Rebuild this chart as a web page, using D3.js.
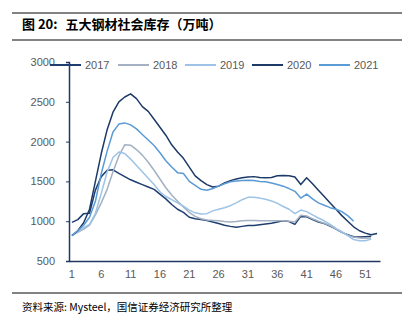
<!DOCTYPE html>
<html>
<head>
<meta charset="utf-8">
<script src="https://cdn.jsdelivr.net/npm/d3@7"></script>
<style>
  body { margin: 0; background: #fff; }
  svg { display: block; }
</style>
</head>
<body>
<script>
    let weeks = d3.range(1, 54);
    let tickWeeks = [1, 6, 11, 16, 21, 26, 31, 36, 41, 46, 51];
    let yTicks = [500, 1000, 1500, 2000, 2500, 3000];
    let seriesNames = ["2017", "2018", "2019", "2020", "2021"];
    let colors = ["#1f3e70", "#a3b1c2", "#9dc3e6", "#1c3a68", "#5b9bd5"];

    let v2017 = [985, 1020, 1095, 1100, 1390, 1560, 1640, 1645, 1600, 1560, 1520, 1490, 1460, 1430, 1400, 1340,
      1280, 1210, 1150, 1110, 1050, 1030, 1020, 1010, 990, 970, 950, 935, 925, 935, 945, 945, 955, 965, 975, 990,
      1005, 995, 960, 1060, 1055, 1020, 990, 970, 940, 900, 860, 830, 805, 800, 805, 810];
    let v2018 = [820, 860, 900, 950, 1080, 1230, 1400, 1620, 1820, 1960, 1955, 1900, 1830, 1740, 1640, 1530,
      1420, 1330, 1250, 1180, 1110, 1060, 1030, 1015, 1010, 1005, 995, 990, 995, 1005, 1010, 1010, 1005, 1005,
      1005, 1005, 1005, 1000, 990, 1075, 1065, 1030, 1000, 975, 945, 900, 860, 825, 800, 790, 785, 790];
    let v2019 = [820, 870, 920, 960, 1100, 1350, 1620, 1800, 1870, 1850, 1780, 1700, 1620, 1540, 1460, 1370,
      1310, 1270, 1230, 1190, 1140, 1105, 1090, 1095, 1130, 1150, 1170, 1195, 1230, 1270, 1300, 1300, 1290, 1275,
      1255, 1225, 1185, 1150, 1095, 1140, 1120, 1080, 1040, 1005, 960, 910, 870, 820, 770, 755, 755, 775];
    let v2020 = [820, 880, 980, 1150, 1500, 1850, 2150, 2370, 2500, 2560, 2600, 2540, 2440, 2380, 2280, 2180,
      2080, 1960, 1870, 1790, 1680, 1570, 1510, 1460, 1430, 1440, 1480, 1510, 1530, 1545, 1555, 1560, 1550, 1545,
      1550, 1570, 1575, 1570, 1555, 1460, 1545, 1470, 1390, 1310, 1230, 1150, 1070, 1000, 930, 880, 850, 830, 845];
    let v2021 = [820, 880, 950, 1050, 1250, 1600, 1880, 2120, 2220, 2235, 2210, 2160, 2090, 2020, 1950, 1860,
      1760, 1680, 1610, 1600, 1500, 1450, 1400, 1390, 1410, 1440, 1470, 1495, 1505, 1510, 1515, 1510, 1500, 1495,
      1480, 1460, 1440, 1410, 1375, 1290, 1340, 1280, 1230, 1200, 1170, 1150, 1120, 1070, 1000];

    let allValues = [v2017, v2018, v2019, v2020, v2021];

    let width = 407, height = 331;
    let plot = {"left": 69, "right": 380, "top": 62, "bottom": 261};

    const svg = d3.select("body")
      .append("svg")
      .attr("width", width)
      .attr("height", height);

    // header / footer rules
    [13, 40, 293].forEach((y) => {
      svg.append("line")
        .attr("x1", 12).attr("x2", 402)
        .attr("y1", y).attr("y2", y)
        .attr("stroke", "#595959")
        .attr("stroke-width", 1.5);
    });

    let title = svg.append("text")
      .attr("x", 22)
      .attr("y", 29)
      .style("font-family", "'Noto Sans CJK SC', sans-serif")
      .style("font-size", "13px")
      .style("font-weight", "bold")
      .attr("fill", "#000");
    title.append("tspan").text("图 20:");
    title.append("tspan").attr("dx", 8).text("五大钢材社会库存（万吨）");

    svg.append("text")
      .attr("x", 22)
      .attr("y", 311)
      .style("font-family", "'Noto Sans CJK SC', sans-serif")
      .style("font-size", "10.5px")
      .attr("fill", "#000")
      .text("资料来源: Mysteel，国信证券经济研究所整理");

    let xscale = d3.scaleBand()
      .domain(weeks)
      .range([plot.left, plot.right]);

    let yscale = d3.scaleLinear()
      .domain([500, 3000])
      .range([plot.bottom, plot.top]);

    let line = d3.line()
      .x((d, i) => xscale(weeks[i]) + xscale.bandwidth() / 2)
      .y((d) => yscale(d));

    svg.selectAll("path.series")
      .data(allValues)
      .enter()
      .append("path")
      .attr("class", "series")
      .attr("d", (d) => line(d))
      .attr("fill", "none")
      .attr("stroke", (d, i) => colors[i])
      .attr("stroke-width", 1.5)
      .attr("stroke-linejoin", "round");

    let x_axis = d3.axisBottom()
      .scale(xscale)
      .tickValues(tickWeeks)
      .tickSize(0)
      .tickPadding(9);

    let gx = svg.append("g")
      .attr("transform", "translate(0," + plot.bottom + ")")
      .call(x_axis);

    let y_axis = d3.axisLeft()
      .scale(yscale)
      .tickValues(yTicks)
      .tickFormat(d3.format("d"))
      .tickSize(3)
      .tickPadding(11);

    let gy = svg.append("g")
      .attr("transform", "translate(" + plot.left + ",0)")
      .call(y_axis);

    [gx, gy].forEach((g) => {
      g.select(".domain").attr("stroke", "#1f3864").attr("stroke-width", 1.5);
      g.selectAll(".tick line").attr("stroke", "#1f3864");
      g.selectAll(".tick text")
        .attr("fill", "#595959")
        .style("font-family", "'Liberation Sans', Arial, sans-serif")
        .style("font-size", "11px");
    });

    // legend
    let legendX = [50, 118, 185, 252, 319];
    let legend = svg.append("g")
      .selectAll("g")
      .data(seriesNames)
      .enter()
      .append("g")
      .attr("transform", (d, i) => "translate(" + legendX[i] + ",65)");

    legend.append("line")
      .attr("x1", 0).attr("x2", 31)
      .attr("y1", 0).attr("y2", 0)
      .attr("stroke", (d, i) => colors[i])
      .attr("stroke-width", 2);

    legend.append("text")
      .attr("x", 35)
      .attr("y", 4)
      .attr("fill", "#595959")
      .style("font-family", "'Liberation Sans', Arial, sans-serif")
      .style("font-size", "11px")
      .text((d) => d);
</script>
</body>
</html>
